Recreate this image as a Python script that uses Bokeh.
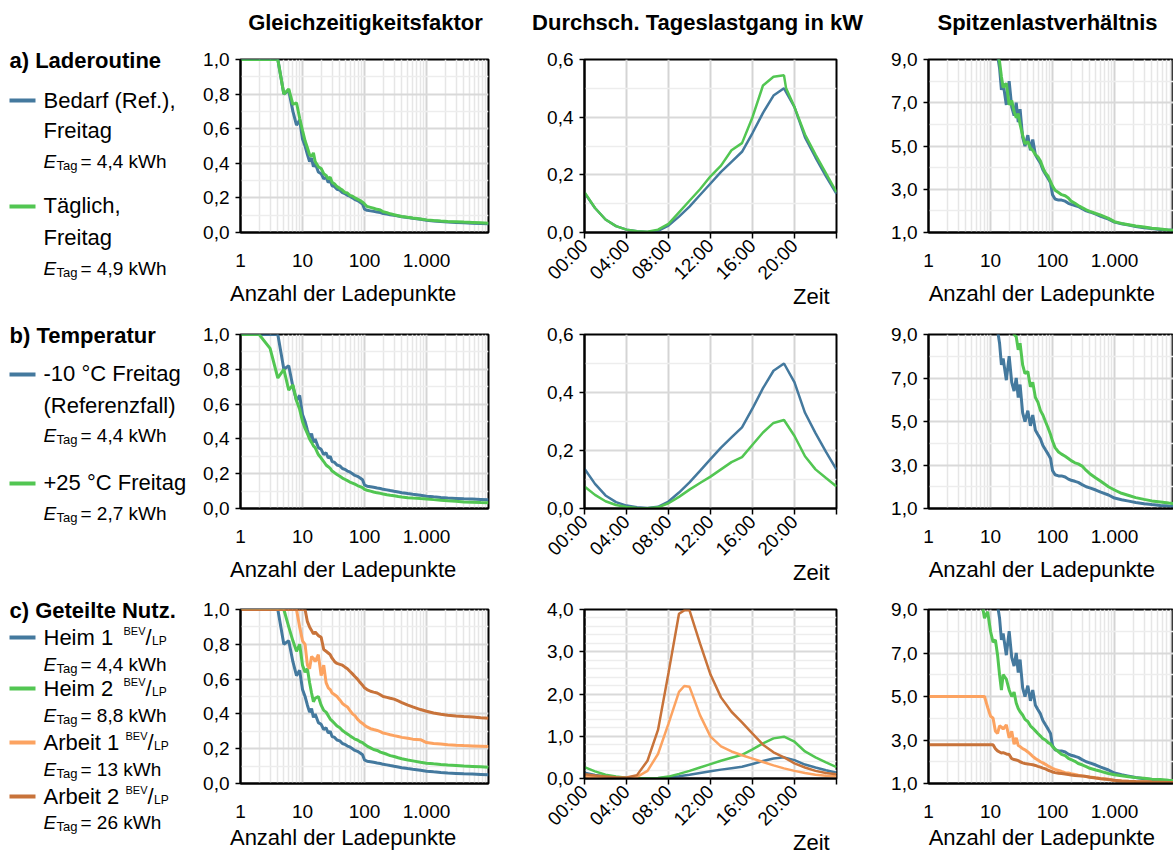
import math
import numpy as np
from bokeh.plotting import figure
from bokeh.models import Range1d, FixedTicker, CustomJSTickFormatter
from bokeh.layouts import row, column
from bokeh.embed import file_html
from bokeh.resources import INLINE
from bokeh.core.properties import value

nan = float("nan")
FONT = "Liberation Sans"
BLUE = "#44799E"
GREEN = "#52C652"
ORANGE = "#FCA361"
BROWN = "#C8733A"

# ---------------- data ----------------
N_GRID = [1, 2, 3, 4, 5, 6, 7, 8, 9, 10,
          11, 12, 13, 14, 15, 16,
          18, 20, 22, 24, 26, 28, 30,
          33, 36, 40, 44, 48, 53, 58, 64, 70, 77, 85, 93,
          100, 110, 125, 140, 160, 180, 200, 230, 260, 300, 350, 400,
          500, 600, 800, 1000, 1300, 1700, 2200, 3000, 4000, 5500, 7500, 10000]

# Gleichzeitigkeitsfaktor
GZF_REF = [1.0, 1.0, 1.0, 1.0, 0.80, 0.82, 0.70, 0.62, 0.65, 0.54,
           0.50, 0.45, 0.41, 0.43, 0.38, 0.40,
           0.35, 0.34, 0.31, 0.32, 0.29, 0.30, 0.27,
           0.265, 0.25, 0.245, 0.23, 0.225, 0.215, 0.21, 0.20, 0.19, 0.185, 0.175, 0.165,
           0.135, 0.128, 0.125, 0.122, 0.118, 0.115, 0.11, 0.107, 0.103, 0.099, 0.095, 0.091,
           0.086, 0.082, 0.076, 0.071, 0.067, 0.063, 0.060, 0.058, 0.056, 0.054, 0.052, 0.050]
GZF_A_GREEN = [1.0, 1.0, 1.0, 1.0, 0.80, 0.83, 0.74, 0.75, 0.66, 0.59,
               0.53, 0.49, 0.45, 0.44, 0.46, 0.41,
               0.38, 0.37, 0.34, 0.33, 0.31, 0.32, 0.29,
               0.28, 0.265, 0.255, 0.245, 0.232, 0.228, 0.215, 0.21, 0.20, 0.193, 0.185, 0.175,
               0.165, 0.15, 0.145, 0.14, 0.134, 0.13, 0.12, 0.115, 0.108, 0.103, 0.097, 0.093,
               0.088, 0.084, 0.078, 0.073, 0.069, 0.066, 0.064, 0.062, 0.060, 0.058, 0.056, 0.054]
GZF_B_GREEN = [1.0, 1.0, 0.92, 0.75, 0.80, 0.68, 0.71, 0.62, 0.57, 0.50,
               0.46, 0.43, 0.40, 0.38, 0.36, 0.35,
               0.31, 0.29, 0.27, 0.25, 0.24, 0.23, 0.215,
               0.205, 0.195, 0.185, 0.175, 0.168, 0.16, 0.152, 0.146, 0.14, 0.132, 0.126, 0.12,
               0.11, 0.105, 0.10, 0.095, 0.09, 0.087, 0.083, 0.079, 0.076, 0.073, 0.069, 0.066,
               0.062, 0.06, 0.057, 0.055, 0.051, 0.047, 0.044, 0.041, 0.038, 0.036, 0.034, 0.033]
GZF_C_GREEN = [1.0, 1.0, 1.0, 1.0, 1.0, 0.90, 0.82, 0.76, 0.80, 0.68,
               0.64, 0.66, 0.58, 0.52, 0.47, 0.49,
               0.50, 0.45, 0.42, 0.41, 0.39, 0.37, 0.36,
               0.345, 0.33, 0.32, 0.305, 0.295, 0.285, 0.275, 0.265, 0.255, 0.25, 0.24, 0.235,
               0.225, 0.215, 0.205, 0.195, 0.19, 0.18, 0.175, 0.168, 0.16, 0.155, 0.148, 0.142,
               0.135, 0.13, 0.122, 0.117, 0.113, 0.109, 0.106, 0.103, 0.10, 0.098, 0.096, 0.094]
GZF_C_ORANGE = [1.0, 1.0, 1.0, 1.0, 1.0, 1.0, 1.0, 1.0, 0.90, 0.82,
                0.80, 0.68, 0.66, 0.73, 0.72, 0.70,
                0.74, 0.62, 0.68, 0.58, 0.55, 0.54, 0.52,
                0.51, 0.50, 0.48, 0.46, 0.45, 0.44, 0.42, 0.40, 0.39, 0.37, 0.355, 0.345,
                0.335, 0.325, 0.315, 0.31, 0.305, 0.298, 0.29, 0.285, 0.28, 0.275, 0.27, 0.265,
                0.26, 0.255, 0.252, 0.235, 0.23, 0.227, 0.223, 0.22, 0.218, 0.216, 0.214, 0.212]
GZF_C_BROWN = [1.0, 1.0, 1.0, 1.0, 1.0, 1.0, 1.0, 1.0, 1.0, 1.0,
               1.0, 0.93, 0.90, 0.88, 0.86, 0.87,
               0.85, 0.84, 0.77, 0.76, 0.75, 0.74, 0.72,
               0.70, 0.69, 0.685, 0.68, 0.67, 0.66, 0.645, 0.63, 0.615, 0.60, 0.58, 0.565,
               0.55, 0.54, 0.53, 0.525, 0.52, 0.51, 0.50, 0.495, 0.49, 0.485, 0.475, 0.465,
               0.45, 0.44, 0.425, 0.415, 0.405, 0.398, 0.392, 0.388, 0.385, 0.382, 0.378, 0.375]

# Spitzenlastverhaeltnis
SLV_REF = [nan, nan, nan, nan, nan, nan, nan, nan, nan, nan,
           nan, 9.7, 9.2, 8.6, 7.6, 7.9,
           6.9, 8.0, 6.8, 6.4, 7.0, 6.1, 6.7,
           5.4, 5.0, 5.5, 4.8, 5.3, 4.6, 4.4, 4.2, 3.9, 3.7, 3.5, 3.3,
           2.75, 2.55, 2.5, 2.5, 2.45, 2.35, 2.3, 2.25, 2.2, 2.1, 2.0, 1.95,
           1.85, 1.75, 1.62, 1.48, 1.4, 1.34, 1.28, 1.22, 1.18, 1.14, 1.11, 1.09]
SLV_A_GREEN = [nan, nan, nan, nan, nan, nan, nan, nan, nan, nan,
               nan, 9.8, 9.3, 8.9, 8.2, 7.7,
               7.9, 6.9, 7.1, 6.6, 6.3, 6.5, 6.0,
               5.5, 5.1, 5.2, 4.9, 4.8, 4.6, 4.5, 4.3, 4.0, 3.75, 3.6, 3.35,
               3.15, 2.95, 2.85, 2.75, 2.7, 2.6, 2.45, 2.35, 2.25, 2.15, 2.05, 1.98,
               1.88, 1.8, 1.65, 1.5, 1.42, 1.36, 1.3, 1.25, 1.2, 1.16, 1.12, 1.1]
SLV_B_GREEN = [nan, nan, nan, nan, nan, nan, nan, nan, nan, nan,
               nan, nan, nan, nan, nan, nan,
               nan, nan, 9.8, 9.0, 8.9, 8.3, 8.6,
               7.6, 7.2, 7.3, 6.6, 6.8, 6.1, 5.9, 5.5, 5.3, 5.0, 4.7, 4.4,
               4.1, 3.8, 3.6, 3.5, 3.4, 3.3, 3.2, 3.1, 3.05, 2.95, 2.75, 2.6,
               2.4, 2.25, 2.0, 1.85, 1.7, 1.6, 1.5, 1.42, 1.35, 1.3, 1.25, 1.22]
SLV_C_GREEN = [nan, nan, nan, nan, nan, nan, 9.6, 8.6, 8.9, 8.0,
               7.5, 7.6, 6.9, 6.0, 5.3, 6.0,
               5.8, 5.3, 5.0, 5.2, 4.7, 4.45, 4.3,
               4.15, 3.95, 3.85, 3.65, 3.55, 3.42, 3.3, 3.18, 3.06, 3.0, 2.88, 2.82,
               2.7, 2.58, 2.46, 2.34, 2.28, 2.16, 2.1, 2.02, 1.92, 1.86, 1.78, 1.7,
               1.62, 1.56, 1.46, 1.4, 1.36, 1.31, 1.27, 1.24, 1.2, 1.18, 1.15, 1.13]
SLV_C_ORANGE = [5.0, 5.0, 5.0, 5.0, 5.0, 5.0, 5.0, 5.0, 4.5, 4.1,
                4.0, 3.4, 3.3, 3.65, 3.6, 3.5,
                3.7, 3.1, 3.4, 2.8, 3.1, 2.75, 2.7,
                2.6, 2.55, 2.45, 2.35, 2.25, 2.15, 2.08, 2.0, 1.95, 1.88, 1.8, 1.75,
                1.7, 1.65, 1.6, 1.55, 1.5, 1.48, 1.45, 1.42, 1.38, 1.35, 1.32, 1.3,
                1.26, 1.23, 1.2, 1.13, 1.11, 1.09, 1.08, 1.07, 1.06, 1.05, 1.05, 1.04]
SLV_C_BROWN = [2.78, 2.78, 2.78, 2.78, 2.78, 2.78, 2.78, 2.78, 2.78, 2.78,
               2.78, 2.6, 2.5, 2.45, 2.4, 2.42,
               2.36, 2.33, 2.14, 2.1, 2.08, 2.05, 2.0,
               1.95, 1.92, 1.9, 1.88, 1.86, 1.83, 1.79, 1.75, 1.71, 1.67, 1.61, 1.57,
               1.53, 1.5, 1.47, 1.46, 1.44, 1.41, 1.39, 1.37, 1.36, 1.35, 1.32, 1.29,
               1.25, 1.22, 1.18, 1.15, 1.12, 1.1, 1.09, 1.08, 1.07, 1.06, 1.05, 1.04]

# Durchschnittlicher Tageslastgang (kW)
HOURS = [0, 1, 2, 3, 4, 5, 6, 7, 8, 9, 10, 11, 12, 13, 14, 15, 16, 17, 18, 19, 20, 21, 22, 23, 24]
HOURS_A_GREEN = [0, 1, 2, 3, 4, 5, 6, 7, 8, 9, 10, 11, 12, 13, 14, 15, 16, 17, 18, 19, 19.2,
                 20, 21, 22, 23, 24]
HOURS_WORK = [0, 1, 2, 3, 4, 5, 6, 7, 8, 9, 9.5, 10, 11, 12, 13, 14, 15, 16, 17, 18, 19,
              20, 21, 22, 23, 24]
LOAD_REF = [0.137, 0.085, 0.045, 0.022, 0.010, 0.004, 0.002, 0.006, 0.024, 0.055, 0.090,
            0.130, 0.170, 0.210, 0.245, 0.280, 0.345, 0.415, 0.475, 0.500, 0.435, 0.330,
            0.260, 0.195, 0.134]
LOAD_A_GREEN = [0.140, 0.085, 0.045, 0.022, 0.010, 0.004, 0.003, 0.010, 0.030, 0.070, 0.110,
                0.150, 0.195, 0.232, 0.285, 0.310, 0.400, 0.510, 0.540, 0.545, 0.500, 0.435,
                0.340, 0.270, 0.205, 0.140]
LOAD_B_GREEN = [0.076, 0.047, 0.025, 0.012, 0.005, 0.002, 0.001, 0.004, 0.018, 0.040, 0.065,
                0.088, 0.110, 0.135, 0.160, 0.177, 0.220, 0.262, 0.295, 0.305, 0.250, 0.180,
                0.135, 0.105, 0.076]
LOAD_C_GREEN = [0.27, 0.17, 0.09, 0.045, 0.02, 0.008, 0.004, 0.012, 0.045, 0.11, 0.18, 0.26,
                0.34, 0.42, 0.49, 0.56, 0.69, 0.83, 0.95, 0.99, 0.87, 0.64, 0.50, 0.38, 0.27]
LOAD_C_ORANGE = [0.05, 0.035, 0.025, 0.015, 0.012, 0.04, 0.18, 0.58, 1.30, 2.05, 2.19, 2.17,
                 1.50, 0.99, 0.76, 0.64, 0.55, 0.47, 0.39, 0.31, 0.24, 0.18, 0.13, 0.09,
                 0.065, 0.05]
LOAD_C_BROWN = [0.10, 0.07, 0.05, 0.03, 0.025, 0.08, 0.42, 1.15, 2.50, 3.90, 3.98, 3.98,
                3.20, 2.46, 1.92, 1.58, 1.33, 1.06, 0.80, 0.62, 0.50, 0.36, 0.26, 0.18,
                0.13, 0.10]

COL_TITLES = ["Gleichzeitigkeitsfaktor", "Durchsch. Tageslastgang in kW", "Spitzenlastverhältnis"]
X_LABELS = ["Anzahl der Ladepunkte", "Zeit", "Anzahl der Ladepunkte"]
TIME_TICKS = [0, 4, 8, 12, 16, 20, 24]
LOG_TICKS = [1, 10, 100, 1000, 10000]

SERIES = {
    (0, 0): [(N_GRID, GZF_REF, BLUE), (N_GRID, GZF_A_GREEN, GREEN)],
    (1, 0): [(N_GRID, GZF_REF, BLUE), (N_GRID, GZF_B_GREEN, GREEN)],
    (2, 0): [(N_GRID, GZF_REF, BLUE), (N_GRID, GZF_C_GREEN, GREEN),
             (N_GRID, GZF_C_ORANGE, ORANGE), (N_GRID, GZF_C_BROWN, BROWN)],
    (0, 1): [(HOURS, LOAD_REF, BLUE), (HOURS_A_GREEN, LOAD_A_GREEN, GREEN)],
    (1, 1): [(HOURS, LOAD_REF, BLUE), (HOURS, LOAD_B_GREEN, GREEN)],
    (2, 1): [(HOURS, LOAD_REF, BLUE), (HOURS, LOAD_C_GREEN, GREEN),
             (HOURS_WORK, LOAD_C_ORANGE, ORANGE), (HOURS_WORK, LOAD_C_BROWN, BROWN)],
    (0, 2): [(N_GRID, SLV_REF, BLUE), (N_GRID, SLV_A_GREEN, GREEN)],
    (1, 2): [(N_GRID, SLV_REF, BLUE), (N_GRID, SLV_B_GREEN, GREEN)],
    (2, 2): [(N_GRID, SLV_REF, BLUE), (N_GRID, SLV_C_GREEN, GREEN),
             (N_GRID, SLV_C_ORANGE, ORANGE), (N_GRID, SLV_C_BROWN, BROWN)],
}

# ---------------- layout geometry (pixels) ----------------
NBSP = "\u00a0"
TOP_H = 45
# label padding: no-break spaces (leading / trailing) shift the centred axis label
COLS = [
    dict(w=340, left=50, right=42, log=True, xr=(1, 10000), lead=0, trail=7),
    dict(w=340, left=54, right=34, log=False, xr=(0, 24), lead=33, trail=0),
    dict(w=303, left=58, right=0, log=True, xr=(1, 10 ** (245 / 62)), lead=0, trail=3),
]
ROWS = [dict(h=275, top=14, bottom=88), dict(h=275, top=14, bottom=87), dict(h=262, top=14, bottom=74)]
YRANGES = [[(0, 1), (0, 1), (0, 1)],
           [(0, 0.6), (0, 0.6), (0, 4)],
           [(1, 9), (1, 9), (1, 9)]]
YTICKS = [[([0, 0.2, 0.4, 0.6, 0.8, 1.0], [0.1, 0.3, 0.5, 0.7, 0.9])] * 3,
          [([0, 0.2, 0.4, 0.6], [0.1, 0.3, 0.5])] * 2 +
          [([0, 1, 2, 3, 4], [k / 5 for k in range(1, 20) if k % 5])],
          [([1, 3, 5, 7, 9], [2, 4, 6, 8])] * 3]
LOG_MINOR = [m * d for d in (1, 10, 100, 1000) for m in range(2, 10)]


def make_plot(r, c):
    C, R = COLS[c], ROWS[r]
    p = figure(width=C["w"], height=R["h"], x_axis_type="log" if C["log"] else "linear",
               x_range=Range1d(*C["xr"]), y_range=Range1d(*YRANGES[c][r]),
               output_backend="svg", toolbar_location=None, title=None,
               min_border_left=C["left"], min_border_right=C["right"],
               min_border_top=R["top"], min_border_bottom=R["bottom"])
    p.outline_line_color = "black"
    p.outline_line_width = 2
    p.background_fill_color = "white"
    p.border_fill_color = "white"
    xa, ya = p.xaxis[0], p.yaxis[0]
    for ax in (xa, ya):
        ax.axis_line_color = "black"
        ax.axis_line_width = 2
        ax.major_label_text_font = FONT
        ax.major_label_text_font_size = "19px"
        ax.major_label_text_color = "black"
        ax.minor_tick_in = 0
        ax.minor_tick_out = 0
        ax.major_tick_in = 0
        ax.major_tick_line_color = "black"
        ax.major_tick_line_width = 1.5
    yt, ym = YTICKS[c][r]
    ya.ticker = FixedTicker(ticks=yt, minor_ticks=ym)
    ya.formatter = CustomJSTickFormatter(code="return tick.toFixed(1).replace('.', ',');")
    ya.major_tick_out = 5
    ya.major_label_standoff = 6

    xa.axis_label = NBSP * C["lead"] + X_LABELS[c] + NBSP * C["trail"]
    xa.axis_label_text_font = FONT
    xa.axis_label_text_font_size = "22px"
    xa.axis_label_text_font_style = "normal"
    xa.axis_label_text_color = "black"
    if C["log"]:
        xa.ticker = FixedTicker(ticks=LOG_TICKS, minor_ticks=LOG_MINOR)
        xa.formatter = CustomJSTickFormatter(code=(
            "if (tick > 5000) return '';"
            "var s = String(Math.round(tick));"
            "return s.replace(/\\B(?=(\\d{3})+(?!\\d))/g, '.');"))
        xa.major_tick_out = 0
        xa.major_label_standoff = 21
        xa.axis_label_standoff = 4 if r == 2 else 11
        p.xgrid.minor_grid_line_color = "#E6E6E6"
        p.xgrid.minor_grid_line_width = 1.5
    else:
        xa.ticker = FixedTicker(ticks=TIME_TICKS, minor_ticks=[])
        xa.formatter = CustomJSTickFormatter(code=(
            "if (tick >= 24) return '';"
            "var h = Math.round(tick);"
            "return (h < 10 ? '0' : '') + h + ':00';"))
        xa.major_tick_out = 6
        xa.major_label_standoff = 4
        xa.major_label_orientation = math.pi / 4
        xa.axis_label_standoff = -10
    p.xgrid.grid_line_color = "#D4D4D4"
    p.xgrid.grid_line_width = 2
    p.ygrid.grid_line_color = "#D9D9D9"
    p.ygrid.grid_line_width = 2
    p.ygrid.minor_grid_line_color = "#EDEDED"
    p.ygrid.minor_grid_line_width = 1.5

    lw = 2.5 if c == 1 else 3
    for xs, ys, color in SERIES[(r, c)]:
        p.line(np.array(xs, dtype=float), np.array(ys, dtype=float), line_color=color, line_width=lw)
    return p


def blank(width, height, x0, x1, y_top, y_bottom):
    f = figure(width=width, height=height, x_range=Range1d(x0, x1), y_range=Range1d(y_bottom, y_top),
               output_backend="svg", toolbar_location=None, title=None,
               x_axis_location=None, y_axis_location=None,
               min_border_left=0, min_border_right=0, min_border_top=0, min_border_bottom=0)
    f.outline_line_color = None
    f.grid.visible = False
    f.background_fill_color = "white"
    f.border_fill_color = "white"
    return f


def add_texts(f, xs, ys, texts, size, style="normal", align="left"):
    f.text(x=xs, y=ys, text=texts, text_font=value(FONT), text_font_size=value(size),
           text_font_style=value(style), text_align=value(align),
           text_baseline=value("middle"), text_color="black")


# ---------------- column titles strip ----------------
top = blank(1173, TOP_H, 0, 1173, 0, TOP_H)
add_texts(top, [365, 697, 1047], [22, 22, 22], COL_TITLES, "22px", "bold", "center")

# ---------------- legend column ----------------
leg = blank(190, 857 - TOP_H, 0, 190, TOP_H, 857)
add_texts(leg, [9, 9, 9], [60, 335, 610], ["a) Laderoutine", "b) Temperatur", "c) Geteilte Nutz."],
          "22px", "bold")
add_texts(leg, [43] * 7, [100, 130, 205, 237, 373, 405, 482],
          ["Bedarf (Ref.),", "Freitag", "Täglich,", "Freitag",
           "-10 °C Freitag", "(Referenzfall)", "+25 °C Freitag"], "22px")
add_texts(leg, [43] * 4, [637, 688, 742, 796], ["Heim 1", "Heim 2", "Arbeit 1", "Arbeit 2"], "22px")
sup_x = [123, 123, 125, 125]
sup_y = [637, 688, 742, 796]
add_texts(leg, sup_x, [y - 7 for y in sup_y], ["BEV"] * 4, "11px")
add_texts(leg, [x + 22 for x in sup_x], sup_y, ["/"] * 4, "22px")
add_texts(leg, [x + 28.5 for x in sup_x], [y + 3 for y in sup_y], ["LP"] * 4, "12px")

E_Y = [161, 268, 435, 513, 664, 715, 769, 822]
E_TXT = ["= 4,4 kWh", "= 4,9 kWh", "= 4,4 kWh", "= 2,7 kWh",
         "= 4,4 kWh", "= 8,8 kWh", "= 13 kWh", "= 26 kWh"]
add_texts(leg, [43] * 8, E_Y, ["E"] * 8, "19px", "italic")
add_texts(leg, [56] * 8, [y + 4 for y in E_Y], ["Tag"] * 8, "13px")
add_texts(leg, [80] * 8, E_Y, E_TXT, "19px")

LEG_Y = [100, 206, 374, 483, 637, 688, 742, 796]
LEG_C = [BLUE, GREEN, BLUE, GREEN, BLUE, GREEN, ORANGE, BROWN]
leg.segment(x0=[9] * 8, y0=LEG_Y, x1=[35] * 8, y1=LEG_Y, line_color=LEG_C, line_width=4)

cols = [column([make_plot(r, c) for r in range(3)]) for c in range(3)]
layout = column([top, row([leg] + cols)])

open("out.html", "w").write(file_html(layout, INLINE))
